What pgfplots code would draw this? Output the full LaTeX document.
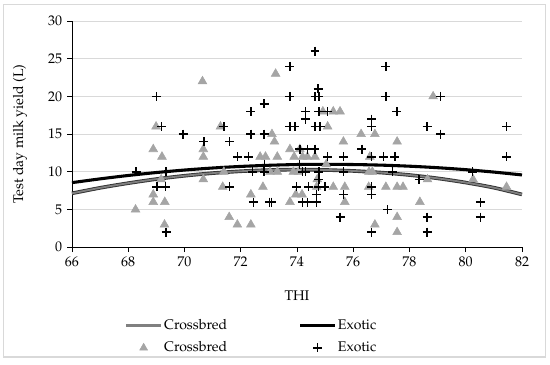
\documentclass[border=0pt]{standalone}
\usepackage[T1]{fontenc}
\usepackage{mathpazo}
\usepackage{pgfplots}
\pgfplotsset{compat=1.18}
\definecolor{crossgray}{HTML}{A5A5A5}
\definecolor{crossline}{HTML}{808080}
\definecolor{gridgray}{HTML}{D9D9D9}
\begin{document}
\begin{tikzpicture}
\path[use as bounding box] (-51.4pt,-83.4pt) rectangle (341.4pt,176.6pt);
\begin{axis}[
  at={(0,0)}, anchor=south west,
  scale only axis, width=321.4pt, height=161.6pt,
  xmin=66, xmax=82, ymin=0, ymax=30,
  xtick={66,68,...,82}, ytick={0,5,...,30},
  axis x line*=bottom, axis y line*=left,
  axis line style={black, line width=0.6pt, -},
  tick align=outside, major tick length=3.5pt,
  tick style={black, line width=0.6pt},
  ymajorgrids, grid style={draw=gridgray, line width=0.6pt},
  xlabel={THI}, ylabel={Test day milk yield (L)},
  xlabel style={at={(axis description cs:0.5,-0.215)}, anchor=center},
  ylabel style={at={(axis description cs:-0.1156,0.5)}, anchor=center},
  clip=false,
  legend columns=2,
  legend image code/.code={\draw[mark repeat=2,mark phase=2,#1] plot coordinates {(0pt,0pt) (12.5pt,0pt) (25pt,0pt)};},
  legend style={draw=none, fill=none, at={(axis description cs:0.107,-0.30)}, anchor=north west,
    cells={anchor=west}, nodes={inner sep=1pt}, row sep=5pt,
    /tikz/every even column/.append style={column sep=50pt}},
]
% Crossbred observations
\addplot[only marks, mark=triangle*, mark size=3.6pt, mark options={fill=crossgray, draw=crossgray}, forget plot] coordinates {
(70.64,22) (73.24,23) (68.99,16) (71.28,16) (68.89,13) (69.2,12) (70.67,13) (70.67,12) (70.67,9) (69.17,9)
(68.89,7) (68.89,6) (69.3,6) (68.26,5) (69.29,3) (71.59,4) (71.88,3) (72.36,3) (72.36,7) (72.79,8)
(71.36,8) (71.4,10) (72.69,12) (72.88,12) (73.11,15) (73.2,14) (73.3,12) (73.04,10) (73.3,10) (73.75,13)
(74.1,13) (73.9,12) (74.2,12) (74.37,12) (73.75,6) (73.96,7) (74.18,7) (73.87,10) (78.84,20) (74.92,18)
(75.29,18) (75.53,18) (75.09,16) (76.28,15) (76.77,15) (75.65,14) (77.56,14) (74.64,12) (76.59,12) (75.04,11)
(74.05,10) (76.56,10) (76.68,10) (74.72,9) (78.64,9) (80.26,9) (81.45,8) (75.29,8) (75.7,8) (76.55,8)
(77.16,8) (77.56,8) (77.77,8) (75.7,6) (78.37,6) (76.77,3) (77.56,4) (77.56,2) (74.7,8)
};
% Exotic observations
\addplot[only marks, mark=+, mark size=3.2pt, mark options={draw=black, line width=1.05pt}, forget plot] coordinates {
(73.75,24) (73.75,20) (69,20) (69.19,16) (71.4,16) (72.36,18) (72.83,19) (74.3,18) (74.3,17) (73.75,16)
(73.93,16) (69.95,15) (72.36,15) (72.83,15) (70.69,14) (71.6,14) (71.88,12) (72.27,12) (74.1,13) (74.37,13)
(74.64,13) (68.28,10) (69.35,10) (72.85,11) (72.42,10) (72.83,10) (74.08,11) (74.3,10) (74.2,10) (69.02,8)
(69.33,8) (71.6,8) (73.99,8) (74.4,8) (74.99,8) (74.7,7) (72.45,6) (73.02,6) (73.1,6) (74.19,6)
(74.37,6) (74.7,6) (69.35,2) (74.64,26) (77.16,24) (74.75,21) (74.64,20) (74.78,20) (77.16,20) (79.1,20)
(74.78,18) (75.08,18) (77.55,18) (76.65,17) (76.65,16) (74.64,16) (74.82,16) (78.63,16) (81.45,16) (79.1,15)
(76.31,13) (75.09,12) (75.65,12) (76.64,12) (77.07,12) (77.48,12) (81.45,12) (74.78,10) (75.65,10) (77.4,10)
(80.24,10) (74.78,9) (74.76,8) (78.34,9) (75.65,7) (76.65,8) (76.65,7) (80.52,6) (77.22,5) (75.53,4)
(78.63,4) (80.52,4) (76.65,2) (78.63,2)
};
% Crossbred trend
\addplot[draw=crossline, line width=1.3pt, smooth, preaction={draw=black!80, line width=2.6pt}, forget plot] coordinates {
(66,7.15) (67,7.88) (68,8.50) (69,9.04) (70,9.48) (71,9.83) (72,10.08) (73,10.24) (74,10.30) (75,10.25)
(76,10.12) (77,9.90) (78,9.58) (79,9.14) (80,8.58) (81,7.90) (82,7.00)
};
% Exotic trend
\addplot[draw=black, line width=2.2pt, smooth, forget plot] coordinates {
(66,8.57) (67,9.07) (68,9.52) (69,9.91) (70,10.24) (71,10.51) (72,10.72) (73,10.87) (74,10.97) (75,11.0)
(76,10.97) (77,10.89) (78,10.75) (79,10.55) (80,10.29) (81,9.97) (82,9.59)
};
\addlegendimage{draw=crossline, line width=2.2pt}
\addlegendentry{Crossbred}
\addlegendimage{draw=black, line width=2.2pt}
\addlegendentry{Exotic}
\addlegendimage{only marks, mark=triangle*, mark size=3.2pt, mark options={fill=crossgray, draw=crossgray}}
\addlegendentry{Crossbred}
\addlegendimage{only marks, mark=+, mark size=3.2pt, mark options={draw=black, line width=1.05pt}}
\addlegendentry{Exotic}
\end{axis}
\draw[gridgray, line width=0.8pt] (-48.6pt,-78.4pt) rectangle (337.9pt,173.1pt);
\end{tikzpicture}
\end{document}
